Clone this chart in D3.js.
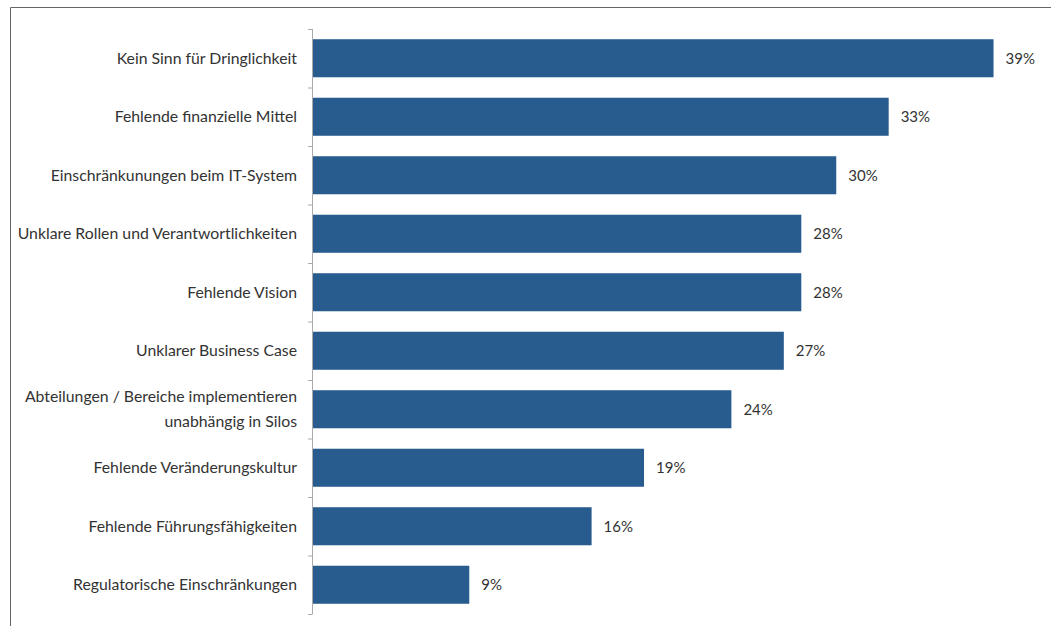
<!DOCTYPE html>
<html>
<head>
<meta charset="utf-8">
<script src="https://cdn.jsdelivr.net/npm/d3@7"></script>
<style>
  body { margin: 0; background: #fff; }
  svg text { font-family: Lato, "Liberation Sans Narrow", sans-serif; fill: #333; }
</style>
</head>
<body>
<svg id="chart" width="1051" height="626"></svg>
<script>
const categories = [
  "Kein Sinn für Dringlichkeit",
  "Fehlende finanzielle Mittel",
  "Einschränkunungen beim IT-System",
  "Unklare Rollen und Verantwortlichkeiten",
  "Fehlende Vision",
  "Unklarer Business Case",
  "Abteilungen / Bereiche implementieren\nunabhängig in Silos",
  "Fehlende Veränderungskultur",
  "Fehlende Führungsfähigkeiten",
  "Regulatorische Einschränkungen"
];
const values = [39, 33, 30, 28, 28, 27, 24, 19, 16, 9];
const valueLabels = ["39%", "33%", "30%", "28%", "28%", "27%", "24%", "19%", "16%", "9%"];

const svg = d3.select('#chart');

// frame (cropped picture border)
svg.append('path')
  .attr('d', 'M10.5,626 V7.5 H1051')
  .attr('fill', 'none')
  .attr('stroke', '#666')
  .attr('stroke-width', 1);

const x = d3.scaleLinear().domain([0, 40]).range([312, 1011]);
const y = d3.scaleBand().domain(d3.range(categories.length)).range([29, 614]).paddingInner(0.35).paddingOuter(0.175);

const data = categories.map((c, i) => ({ label: c, value: values[i], text: valueLabels[i], i }));

// bars
svg.selectAll('.bar')
  .data(data)
  .enter()
  .append('rect')
  .attr('class', 'bar')
  .attr('x', x(0))
  .attr('y', d => y(d.i))
  .attr('width', d => x(d.value) - x(0))
  .attr('height', y.bandwidth())
  .attr('fill', '#285c8e');

// value labels
svg.selectAll('.val')
  .data(data)
  .enter()
  .append('text')
  .attr('class', 'val')
  .attr('x', d => x(d.value) + 12)
  .attr('y', d => y(d.i) + y.bandwidth() / 2)
  .attr('dy', '0.35em')
  .attr('font-size', 15)
  .text(d => d.text);

// axis line + ticks between bands
const step = y.step();
const g = svg.append('g').attr('stroke', '#aaa').attr('fill', 'none');
g.append('line').attr('x1', 312.5).attr('x2', 312.5).attr('y1', 29).attr('y2', 614);
g.selectAll('.tick')
  .data(d3.range(categories.length + 1))
  .enter()
  .append('line')
  .attr('x1', 308).attr('x2', 312.5)
  .attr('y1', d => 29 + d * step + 0.5)
  .attr('y2', d => 29 + d * step + 0.5);

// category labels
svg.selectAll('.cat')
  .data(data)
  .enter()
  .append('text')
  .attr('class', 'cat')
  .attr('text-anchor', 'end')
  .attr('font-size', 15.8)
  .each(function (d) {
    const lines = d.label.split('\n');
    const cy = y(d.i) + y.bandwidth() / 2;
    const lh = 25;
    d3.select(this).selectAll('tspan')
      .data(lines)
      .enter()
      .append('tspan')
      .attr('x', 297)
      .attr('y', (l, k) => cy + (k - (lines.length - 1) / 2) * lh)
      .attr('dy', '0.35em')
      .text(l => l);
  });
</script>
</body>
</html>
